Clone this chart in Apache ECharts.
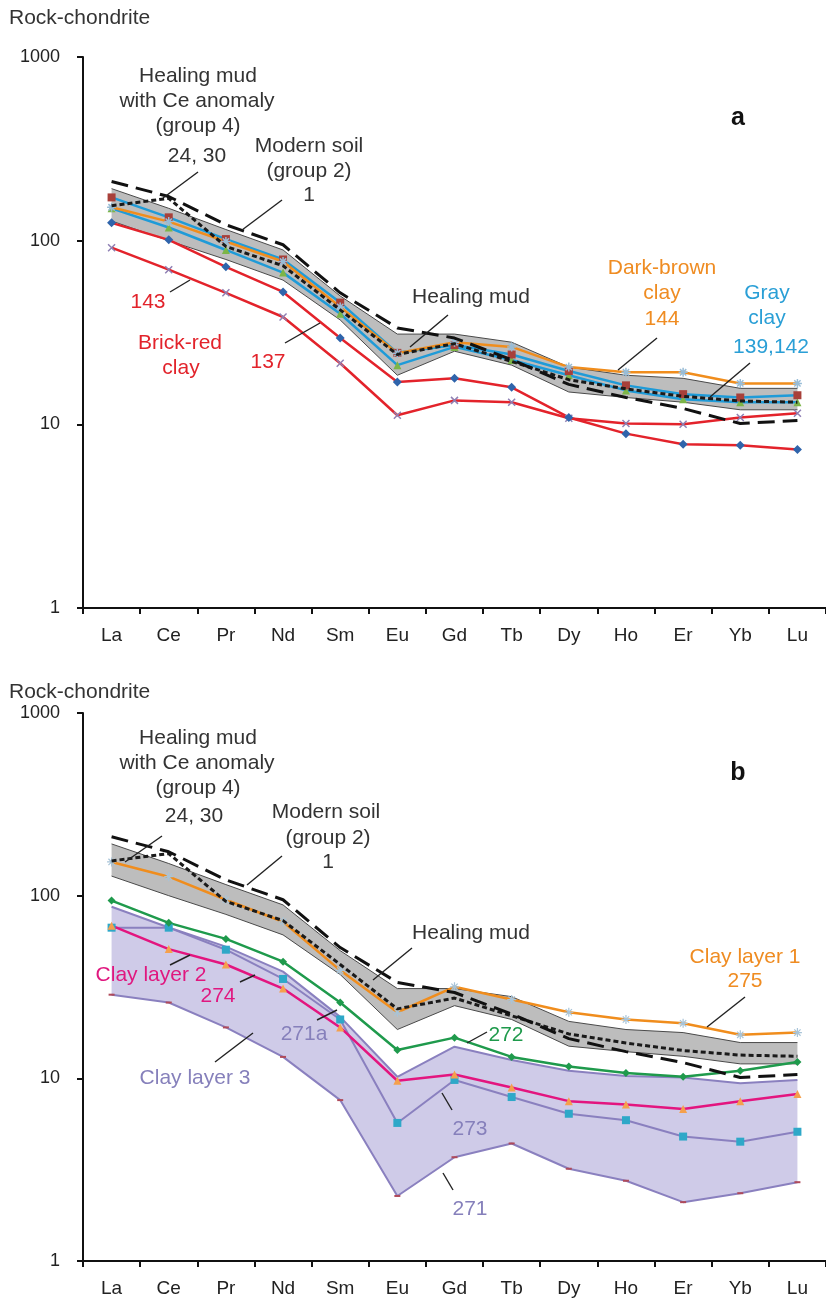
<!DOCTYPE html>
<html>
<head>
<meta charset="utf-8">
<script src="https://cdn.jsdelivr.net/npm/echarts/dist/echarts.min.js"></script>
<style>
html,body{margin:0;padding:0;background:#fff;}
#chart{width:826px;height:1299px;}
</style>
</head>
<body>
<div id="chart"></div>
<script>
// ---------- data ----------
const categories = ['La','Ce','Pr','Nd','Sm','Eu','Gd','Tb','Dy','Ho','Er','Yb','Lu'];
const yTickLabels = ['1','10','100','1000'];

// reference lines (both panels)
const modernSoil1     = [210, 174, 122, 95, 52, 33.5, 29.5, 22.5, 16.5, 14, 12.2, 10.1, 10.5];
const healingMudCe    = [155, 170, 93, 73, 42, 24, 27.5, 22, 17.5, 15.6, 14.2, 13.4, 13.2];
const healingMudUpper = [192, 150, 115, 89, 50, 31, 31, 28, 20.5, 18.5, 17.8, 15.7, 15.7];
const healingMudLower = [128, 100, 79, 61, 37, 18.5, 25, 21, 15, 14, 13.2, 12, 12];

// panel a
const brickRed137  = [125, 101, 72, 52.6, 29.5, 17, 17.8, 15.9, 10.9, 8.9, 7.8, 7.7, 7.3];
const brickRed143  = [91.6, 69.5, 52, 38.4, 21.5, 11.2, 13.5, 13.2, 10.8, 10.1, 10, 10.9, 11.5];
const darkBrown144 = [152, 127, 99, 77, 43.6, 24.4, 28, 26.4, 20.5, 19.2, 19.2, 16.7, 16.7];
const grayClay139  = [172, 134, 102, 79, 46, 24.5, 27, 24, 19.5, 16.3, 14.6, 14, 14.4];
const grayClay142  = [150, 118, 89, 67, 40, 21, 26.4, 22.4, 18.5, 15.3, 13.7, 13.2, 13.2];

// panel b
const clayLayer1_275 = [153, 127, 95, 72, 39, 23, 31.7, 27, 23, 21, 20, 17.3, 17.8];
const clay272  = [94, 71, 58, 43.5, 26, 14.3, 16.7, 13.1, 11.6, 10.7, 10.2, 11, 12.3];
const clay274  = [68.5, 51, 42, 31, 19, 9.7, 10.5, 8.9, 7.5, 7.2, 6.8, 7.5, 8.2];
const clay273  = [66.8, 66.8, 50.6, 35, 21, 5.7, 9.8, 7.9, 6.4, 5.9, 4.8, 4.5, 5.1];
const clay271a = [87, 67, 52.6, 38.4, 21.7, 10.2, 14.9, 12.6, 11, 10.3, 10.1, 9.4, 9.8];
const clay271  = [28.7, 26, 19, 13.1, 7.6, 2.27, 3.7, 4.4, 3.2, 2.75, 2.1, 2.35, 2.7];

// ---------- helpers ----------
const FONT = '"Liberation Sans", Arial, Helvetica, sans-serif';
const XMARK = 'path://M0,0L10,10M10,0L0,10';
const STAR = 'path://M0,5L10,5M5,0L5,10M1.5,1.5L8.5,8.5M8.5,1.5L1.5,8.5';

function lineSeries(name, data, gi, color, width, o) {
  o = o || {};
  return {
    name: name, type: 'line', data: data,
    xAxisIndex: gi, yAxisIndex: gi,
    symbol: o.symbol || 'none', symbolSize: o.size || 8,
    showAllSymbol: true,
    lineStyle: {color: color, width: width, type: o.dash || 'solid'},
    itemStyle: {color: o.mcolor || color, borderColor: o.mborder || o.mcolor || color, borderWidth: o.bw == null ? 0 : o.bw},
    z: o.z || 3, silent: true, animation: false
  };
}
function band(stackName, lower, upper, gi, fill) {
  return [
    {type:'line', data: lower, xAxisIndex: gi, yAxisIndex: gi, stack: stackName, symbol:'none',
     lineStyle:{opacity:0}, silent:true, z:1},
    {type:'line', data: upper.map((v,i)=>+(v - lower[i]).toFixed(4)), xAxisIndex: gi, yAxisIndex: gi,
     stack: stackName, symbol:'none', lineStyle:{opacity:0}, areaStyle:{color: fill, opacity:1},
     silent:true, z:1}
  ];
}
function refSeries(gi) {
  return [
    ...band('hm' + gi, healingMudLower, healingMudUpper, gi, '#bdbdbd'),
    lineSeries('Healing mud upper', healingMudUpper, gi, '#4a4a4a', 1, {z:2}),
    lineSeries('Healing mud lower', healingMudLower, gi, '#4a4a4a', 1, {z:2})
  ];
}
function refDashed(gi) {
  return [
    lineSeries('Healing mud with Ce anomaly 24, 30', healingMudCe, gi, '#1a1a1a', 3, {dash:[5,3], z:5}),
    lineSeries('Modern soil 1', modernSoil1, gi, '#111', 3, {dash:[17,8], z:6})
  ];
}

const series = [
  // panel a
  ...refSeries(0),
  lineSeries('143', brickRed143, 0, '#e3232b', 2.5, {symbol: XMARK, size: 7, mcolor:'#8f80b4', bw:1.5}),
  lineSeries('137', brickRed137, 0, '#e3232b', 2.5, {symbol:'diamond', size: 9, mcolor:'#2f64ab'}),
  lineSeries('142', grayClay142, 0, '#1f9bd8', 2.5, {symbol:'triangle', size: 8, mcolor:'#7cb547'}),
  lineSeries('139', grayClay139, 0, '#1f9bd8', 2.5, {symbol:'rect', size: 8, mcolor:'#a8403a'}),
  lineSeries('144', darkBrown144, 0, '#f08d1d', 2.5, {symbol: STAR, size: 9, mcolor:'#98bcd6', bw:1.5}),
  ...refDashed(0),
  // panel b
  ...band('c3', clay271, clay271a, 1, '#cfcbe8'),
  ...refSeries(1),
  lineSeries('271', clay271, 1, '#8a80bf', 2, {symbol:'rect', size:[6,2], mcolor:'#b04a5a'}),
  lineSeries('271a', clay271a, 1, '#8a80bf', 2, {}),
  lineSeries('273', clay273, 1, '#8a80bf', 2, {symbol:'rect', size: 8, mcolor:'#2ea8c8'}),
  lineSeries('274', clay274, 1, '#e3157f', 2.5, {symbol:'triangle', size: 8, mcolor:'#f5a04c'}),
  lineSeries('272', clay272, 1, '#1f9a4c', 2.5, {symbol:'diamond', size: 8, mcolor:'#1f9a4c'}),
  lineSeries('275', clayLayer1_275, 1, '#f08d1d', 2.5, {symbol: STAR, size: 9, mcolor:'#a8c4d8', bw:1.2}),
  ...refDashed(1)
];

function xAx(gi) {
  return {
    type:'category', data: categories, gridIndex: gi, boundaryGap: true,
    axisLine:{show:true, onZero:false, lineStyle:{color:'#111', width:2}},
    axisTick:{show:true, length:6, lineStyle:{color:'#111', width:2}},
    axisLabel:{fontSize:19, color:'#222', margin:18, fontFamily: FONT},
    splitLine:{show:false}
  };
}
function yAx(gi) {
  return {
    type:'log', logBase:10, min:1, max:1000, gridIndex: gi,
    axisLine:{show:true, lineStyle:{color:'#111', width:2}},
    axisTick:{show:true, length:6, lineStyle:{color:'#111', width:2}},
    axisLabel:{fontSize:18, color:'#222', margin:23, fontFamily: FONT,
      formatter: v => { const i = Math.round(Math.log10(v)); return yTickLabels[i] || ''; }},
    splitLine:{show:false}, minorTick:{show:false}
  };
}

// ---------- annotations ----------
function T(text, x, y, color, size, weight, align) {
  return {type:'text', x:x, y:y, z:100, silent:true,
    style:{text:text, fill:color, font:(weight||'normal') + ' ' + (size||21) + 'px ' + FONT,
      textAlign: align || 'center', textVerticalAlign:'middle', verticalAlign:'middle'}};
}
function L(x1, y1, x2, y2) {
  return {type:'line', z:100, silent:true, shape:{x1:x1, y1:y1, x2:x2, y2:y2},
    style:{stroke:'#222', lineWidth:1.4}};
}
const DK = '#333', OR = '#ef8c22', BL = '#2a9fd6', RD = '#e2232b', MG = '#e0177f', GR = '#1f9a4c', PU = '#8680bb';

const graphic = [
  // panel a
  T('Rock-chondrite', 9, 18, DK, 21, 'normal', 'left'),
  T('Healing mud', 198, 76, DK), T('with Ce anomaly', 197, 101, DK), T('(group 4)', 198, 126, DK), T('24, 30', 197, 156, DK),
  L(198, 172, 163, 198),
  T('Modern soil', 309, 146, DK), T('(group 2)', 309, 171, DK), T('1', 309, 195, DK),
  L(282, 200, 242, 230),
  T('a', 738, 118, '#111', 25, 'bold'),
  T('Healing mud', 471, 297, DK),
  L(448, 315, 410, 347),
  T('Dark-brown', 662, 268, OR), T('clay', 662, 293, OR), T('144', 662, 319, OR),
  L(657, 338, 618, 370),
  T('Gray', 767, 293, BL), T('clay', 767, 318, BL), T('139,142', 771, 347, BL),
  L(750, 363, 710, 397),
  T('143', 148, 302, RD), L(170, 292, 190, 280),
  T('Brick-red', 180, 343, RD), T('clay', 181, 368, RD),
  T('137', 268, 362, RD), L(285, 343, 320, 323),
  // panel b
  T('Rock-chondrite', 9, 692, DK, 21, 'normal', 'left'),
  T('Healing mud', 198, 738, DK), T('with Ce anomaly', 197, 763, DK), T('(group 4)', 198, 788, DK), T('24, 30', 194, 816, DK),
  L(162, 836, 125, 862),
  T('Modern soil', 326, 812, DK), T('(group 2)', 328, 838, DK), T('1', 328, 862, DK),
  L(282, 856, 247, 885),
  T('b', 738, 773, '#111', 25, 'bold'),
  T('Healing mud', 471, 933, DK),
  L(412, 948, 373, 980),
  T('Clay layer 1', 745, 957, OR), T('275', 745, 981, OR),
  L(745, 997, 707, 1027),
  T('272', 506, 1035, GR), L(487, 1032, 467, 1043),
  T('Clay layer 2', 151, 975, MG), L(170, 965, 190, 955),
  T('274', 218, 996, MG), L(240, 982, 255, 975),
  T('271a', 304, 1034, PU), L(317, 1020, 337, 1010),
  T('Clay layer 3', 195, 1078, PU), L(215, 1062, 253, 1033),
  T('273', 470, 1129, PU), L(452, 1110, 442, 1093),
  T('271', 470, 1209, PU), L(453, 1190, 443, 1173)
];

const chart = echarts.init(document.getElementById('chart'), null, {renderer:'canvas'});
chart.setOption({
  animation: false,
  backgroundColor: '#fff',
  textStyle: {fontFamily: FONT},
  grid: [
    {left: 83, top: 57, width: 751, height: 551},
    {left: 83, top: 713, width: 751, height: 548}
  ],
  xAxis: [xAx(0), xAx(1)],
  yAxis: [yAx(0), yAx(1)],
  series: series,
  graphic: graphic
});
</script>
</body>
</html>
